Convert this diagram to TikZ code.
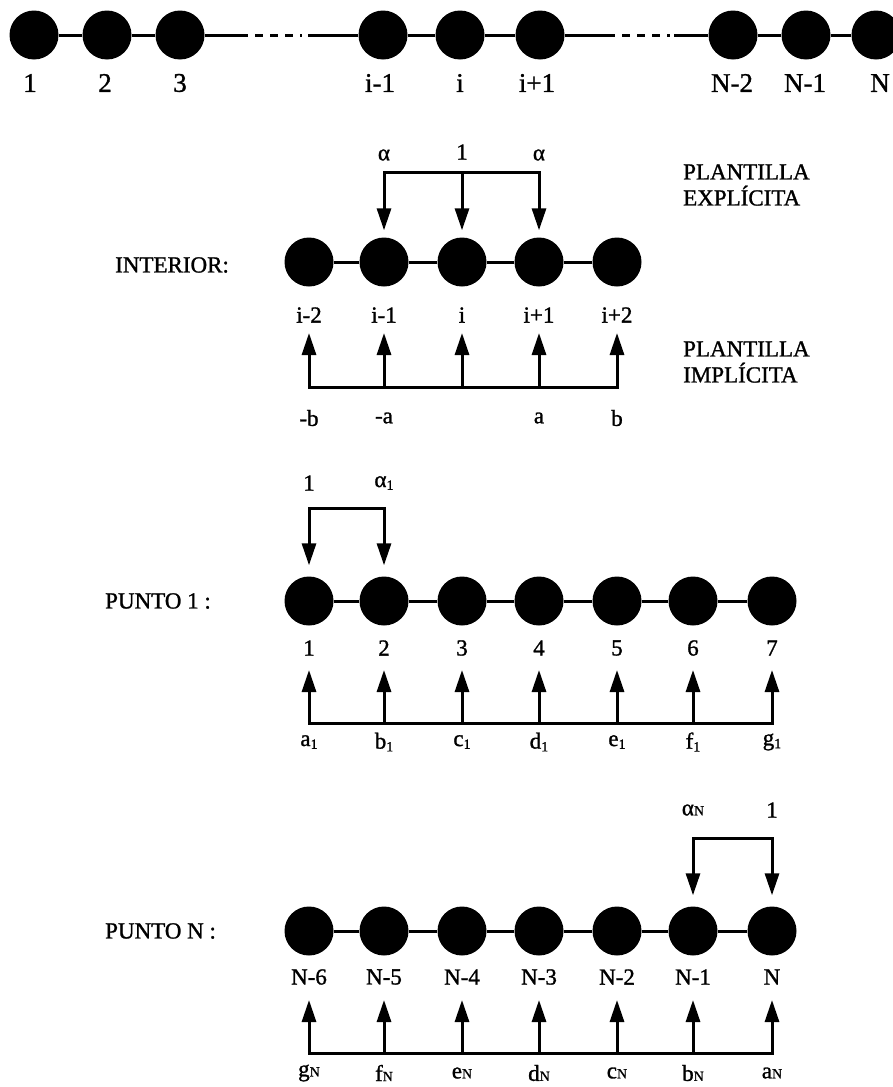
\documentclass[tikz,border=0pt]{standalone}
\usepackage{fontspec}
\setmainfont{Liberation Serif}[FakeBold=1.2]
\usetikzlibrary{arrows.meta}
\newcommand{\sbone}[1]{\raisebox{-0.12em}{\fontsize{14}{14}\selectfont #1}}
\newcommand{\sbN}[1]{{\fontsize{14}{14}\selectfont #1}}
\tikzset{
  dot/.style={circle, fill=black, draw=none, minimum size=49pt, inner sep=0pt},
  link/.style={line width=3pt},
  tip/.style={line width=3pt, line join=miter, -{Triangle[length=22pt,width=14pt]}},
  tips/.style={line width=3pt, line join=miter, {Triangle[length=22pt,width=14pt]}-{Triangle[length=22pt,width=14pt]}},
  toplab/.style={font=\fontsize{27}{30}\selectfont, inner sep=0pt},
  lab/.style={font=\fontsize{23}{26}\selectfont, inner sep=0pt},
  txt/.style={font=\fontsize{23}{26}\selectfont, inner sep=0pt, anchor=west, align=left},
}
\begin{document}
\begin{tikzpicture}[x=1pt,y=-1pt]
\fill[white] (0,0) rectangle (892,1087);
\useasboundingbox (0,0) rectangle (892,1087);

% ---------------- top row ----------------
\foreach \x/\n in {34/1,107/2,180/3,383/4,460/5,540/6,733/7,806/8,876/9}
  \node[dot] (t\n) at (\x,35) {};
\draw[link] (t1) -- (t2);
\draw[link] (t2) -- (t3);
\draw[link] (t4) -- (t5);
\draw[link] (t5) -- (t6);
\draw[link] (t7) -- (t8);
\draw[link] (t8) -- (t9);
\coordinate (ga1) at (240,35);
\coordinate (ga2) at (302,35);
\coordinate (ga3) at (308,35);
\coordinate (gb1) at (607,35);
\coordinate (gb2) at (670,35);
\coordinate (gb3) at (674,35);
\draw[link] (t3) -- (ga1);
\draw[link, dash pattern=on 8pt off 7pt] (ga1) -- (ga2);
\draw[link] (ga3) -- (t4);
\draw[link] (t6) -- (gb1);
\draw[link, dash pattern=on 8pt off 7pt] (gb1) -- (gb2);
\draw[link] (gb3) -- (t7);
\foreach \x/\n/\s in {30/1/1,105/2/2,180/3/3,380/4/i-1,460/5/i,537/6/i+1,732/7/N-2,805/8/N-1,880/9/N}
  \node[toplab] (lt\n) at (\x,83) {\s};

% ---------------- interior ----------------
\node[txt] (tint) at (115,265) {INTERIOR:};
\node[txt] (texp) at (683,185) {PLANTILLA\\EXPLÍCITA};
\node[txt] (timp) at (683,362) {PLANTILLA\\IMPLÍCITA};
\foreach \x/\n in {309/1,384/2,462/3,539/4,617/5}
  \node[dot] (i\n) at (\x,262) {};
\draw[link] (i1) -- (i2);
\draw[link] (i2) -- (i3);
\draw[link] (i3) -- (i4);
\draw[link] (i4) -- (i5);
\foreach \n/\s in {1/i-2,2/i-1,3/i,4/i+1,5/i+2}
  \node[lab] (li\n) at (i\n |- 0,315) {\s};
% explicit stencil
\draw[tips] ([yshift=7pt]i2.north) -- (i2 |- 0,172) -- (i4 |- 0,172) -- ([yshift=7pt]i4.north);
\draw[tip] (i3 |- 0,172) -- ([yshift=7pt]i3.north);
\node[lab] (ai2) at (i2 |- 0,155) {α};
\node[lab] (ai3) at (i3 |- 0,152) {1};
\node[lab] (ai4) at (i4 |- 0,155) {α};
% implicit stencil
\draw[tips] (i1 |- 0,333) -- (i1 |- 0,387) -- (i5 |- 0,387) -- (i5 |- 0,333);
\foreach \n in {2,3,4}
  \draw[tip] (i\n |- 0,387) -- (i\n |- 0,333);
\node[lab] (bi1) at (i1 |- 0,418) {-b};
\node[lab] (bi2) at (i2 |- 0,418) {-a};
\node[lab] (bi4) at (i4 |- 0,418) {a};
\node[lab] (bi5) at (i5 |- 0,418) {b};

% ---------------- punto 1 ----------------
\node[txt] (tp1) at (105,601) {PUNTO 1 :};
\foreach \x/\n in {309/1,384/2,462/3,539/4,617/5,693/6,772/7}
  \node[dot] (p\n) at (\x,601) {};
\foreach \a/\b in {1/2,2/3,3/4,4/5,5/6,6/7}
  \draw[link] (p\a) -- (p\b);
\foreach \n in {1,...,7}
  \node[lab] (lp\n) at (p\n |- 0,648) {\n};
\draw[tips] ([yshift=11pt]p1.north) -- (p1 |- 0,508) -- (p2 |- 0,508) -- ([yshift=11pt]p2.north);
\node[lab] (ap1) at (p1 |- 0,483) {1};
\node[lab] (ap2) at (p2 |- 0,483) {α\sbone{1}};
\draw[tips] (p1 |- 0,670) -- (p1 |- 0,723) -- (p7 |- 0,723) -- (p7 |- 0,670);
\foreach \n in {2,...,6}
  \draw[tip] (p\n |- 0,723) -- (p\n |- 0,670);
\foreach \n/\s in {1/a,2/b,3/c,4/d,5/e,6/f,7/g}
  \node[lab] (cp\n) at (p\n |- 0,742) {\s\sbone{1}};

% ---------------- punto N ----------------
\node[txt] (tpn) at (105,931) {PUNTO N :};
\foreach \x/\n in {309/1,384/2,462/3,539/4,617/5,693/6,772/7}
  \node[dot] (q\n) at (\x,931) {};
\foreach \a/\b in {1/2,2/3,3/4,4/5,5/6,6/7}
  \draw[link] (q\a) -- (q\b);
\foreach \n/\s in {1/N-6,2/N-5,3/N-4,4/N-3,5/N-2,6/N-1,7/N}
  \node[lab] (lq\n) at (q\n |- 0,977) {\s};
\draw[tips] ([yshift=11pt]q6.north) -- (q6 |- 0,838) -- (q7 |- 0,838) -- ([yshift=11pt]q7.north);
\node[lab] (aq6) at (q6 |- 0,810) {α\sbN{N}};
\node[lab] (aq7) at (q7 |- 0,810) {1};
\draw[tips] (q1 |- 0,1000) -- (q1 |- 0,1053) -- (q7 |- 0,1053) -- (q7 |- 0,1000);
\foreach \n in {2,...,6}
  \draw[tip] (q\n |- 0,1053) -- (q\n |- 0,1000);
\foreach \n/\s in {1/g,2/f,3/e,4/d,5/c,6/b,7/a}
  \node[lab] (cq\n) at (q\n |- 0,1073) {\s\sbN{N}};
\end{tikzpicture}
\end{document}
